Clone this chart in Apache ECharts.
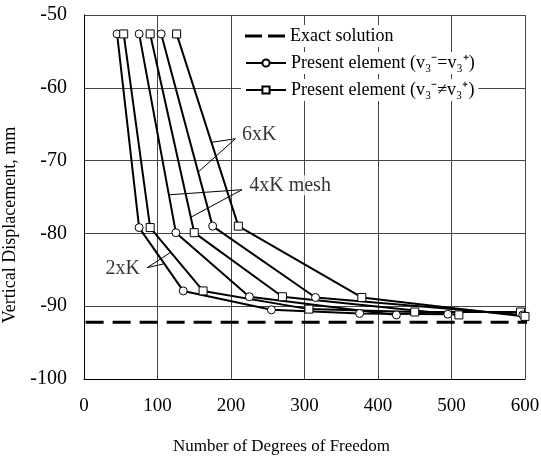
<!DOCTYPE html>
<html>
<head>
<meta charset="utf-8">
<script src="https://cdn.jsdelivr.net/npm/echarts@6/dist/echarts.min.js"></script>
<style>
html, body { margin: 0; padding: 0; background: #fff; }
#chart { width: 541px; height: 461px; }
</style>
</head>
<body>
<div id="chart"></div>
<script>
// number of degrees of freedom / vertical displacement (mm)
const dof2Circ = [45, 75, 135, 255, 375, 495];
const val2Circ = [-52.6, -79.2, -87.9, -90.5, -91.0, -91.1];
const dof2Sq = [54, 90, 162, 306, 450, 594];
const val2Sq = [-52.6, -79.2, -87.9, -90.4, -90.8, -90.8];
const dof4Circ = [75, 125, 225, 425];
const val4Circ = [-52.6, -79.9, -88.7, -91.2];
const dof4Sq = [90, 150, 270, 510];
const val4Sq = [-52.6, -79.9, -88.7, -91.2];
const dof6Circ = [105, 175, 315, 597];
const val6Circ = [-52.6, -79.0, -88.8, -91.2];
const dof6Sq = [126, 210, 378, 600];
const val6Sq = [-52.6, -79.0, -88.8, -91.4];
const exactValue = -92.2;

// mesh labels and their leader lines (data coordinates)
const meshNames = ['6xK', '4xK mesh', '2xK'];
const meshLabelAt = [[208, -66.4], [218, -73.4], [83, -84.9]];
const meshLeaders = [
	[[173, -67.5], [206, -67.0], [155, -71.6]],
	[[115, -74.7], [215, -74.0], [145, -77.8]],
	[[118, -82.6], [86, -84.7], [108, -84.2]]
];

const circName = 'Present element (v₃⁻=v₃⁺)';
const sqName = 'Present element (v₃⁻≠v₃⁺)';
const serif = "'Liberation Serif', 'Times New Roman', serif";

const zip = (xs, ys) => xs.map((x, i) => [x, ys[i]]);

const meshSeries = (name, xs, ys, symbol, size) => ({
	name: name,
	type: 'line',
	data: zip(xs, ys),
	symbol: symbol,
	symbolSize: size,
	showAllSymbol: true,
	z: 5,
	itemStyle: { color: '#fff', borderColor: '#000', borderWidth: 1 },
	lineStyle: { color: '#000', width: 2 },
	emphasis: { disabled: true }
});

const legendBase = {
	orient: 'horizontal',
	left: 241,
	itemWidth: 40,
	backgroundColor: '#fff',
	padding: [2, 4],
	selectedMode: false,
	textStyle: { fontFamily: serif, fontSize: 18, color: '#000' }
};

const chart = echarts.init(document.getElementById('chart'));
chart.setOption({
	animation: false,
	grid: { left: 84, right: 16, top: 15, bottom: 82, outerBoundsMode: 'none' },
	legend: [
		Object.assign({}, legendBase, {
			top: 25, itemHeight: 3,
			data: [{ name: 'Exact solution', icon: 'path://M0,0H17V3H0ZM23,0H40V3H23Z' }]
		}),
		Object.assign({}, legendBase, { top: 52, itemHeight: 9, data: [circName] }),
		Object.assign({}, legendBase, { top: 79, itemHeight: 9, data: [sqName] })
	],
	xAxis: {
		type: 'value',
		min: 0,
		max: 600,
		interval: 100,
		name: 'Number of Degrees of Freedom',
		nameLocation: 'middle',
		nameGap: 59,
		nameTextStyle: { fontFamily: serif, fontSize: 17, color: '#000', padding: [0, 46, 0, 0] },
		axisLine: { lineStyle: { color: '#000', width: 1 } },
		axisTick: { show: false },
		axisLabel: { fontFamily: serif, fontSize: 19, color: '#000', margin: 18 },
		splitLine: { lineStyle: { color: '#444', width: 1 } }
	},
	yAxis: {
		type: 'value',
		min: -100,
		max: -50,
		interval: 10,
		name: 'Vertical Displacement, mm',
		nameLocation: 'middle',
		nameGap: 55,
		nameTextStyle: { fontFamily: serif, fontSize: 18, color: '#000', padding: [0, 56, 0, 0] },
		axisLine: { show: true, lineStyle: { color: '#000', width: 1 } },
		axisTick: { show: false },
		axisLabel: { fontFamily: serif, fontSize: 20, color: '#000', margin: 17 },
		splitLine: { lineStyle: { color: '#444', width: 1 } }
	},
	series: [
		{
			name: 'Exact solution',
			type: 'line',
			data: [[-108, exactValue], [608, exactValue]],
			symbol: 'none',
			clip: false,
			z: 4,
			itemStyle: { color: '#000' },
			lineStyle: { color: '#000', width: 3, type: [18, 9] }
		},
		meshSeries(circName, dof2Circ, val2Circ, 'circle', 8),
		meshSeries(sqName, dof2Sq, val2Sq, 'rect', 8),
		meshSeries(circName, dof4Circ, val4Circ, 'circle', 8),
		meshSeries(sqName, dof4Sq, val4Sq, 'rect', 8),
		meshSeries(circName, dof6Circ, val6Circ, 'circle', 8),
		meshSeries(sqName, dof6Sq, val6Sq, 'rect', 8),
		...meshLeaders.map(pts => ({
			type: 'line',
			data: pts,
			symbol: 'none',
			silent: true,
			z: 3,
			lineStyle: { color: '#000', width: 1 }
		})),
		{
			type: 'scatter',
			symbolSize: 0,
			silent: true,
			z: 2,
			data: meshLabelAt.map((p, i) => ({
				value: p,
				name: meshNames[i],
				label: { position: i === 2 ? 'left' : 'right' }
			})),
			label: {
				show: true,
				formatter: '{b}',
				distance: 3,
				fontFamily: serif,
				fontSize: 20,
				color: '#000',
				backgroundColor: '#fff',
				padding: [0, 2]
			}
		}
	]
});
</script>
</body>
</html>
